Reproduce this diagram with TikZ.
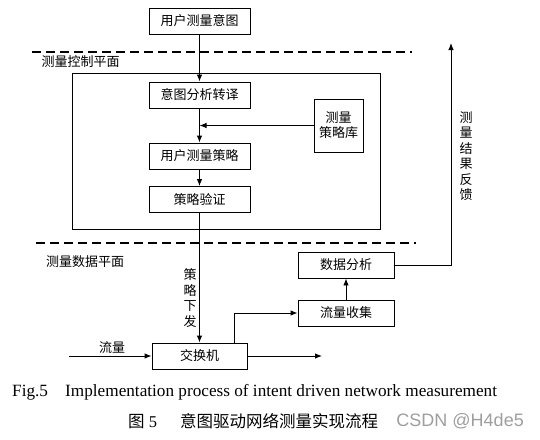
\documentclass[tikz,border=0pt]{standalone}
\usepackage{fontspec}
\setmainfont{Liberation Serif}
\newfontfamily\cjk{Noto Sans CJK SC}
\newfontfamily\wm{Liberation Sans}
\usetikzlibrary{arrows.meta}
\tikzset{
  box/.style={draw, line width=0.9pt, minimum width=101pt, minimum height=26pt, inner sep=0pt, font=\cjk\fontsize{13}{15}\selectfont},
  lbl/.style={inner sep=0pt, font=\cjk\fontsize{13}{15}\selectfont},
  vlbl/.style={inner sep=0pt, align=center, font=\cjk\fontsize{13}{15.5}\selectfont},
  arr/.style={line width=0.9pt, -{Latex[length=7pt,width=5.5pt]}},
  ln/.style={line width=0.9pt},
  plane/.style={line width=2pt, dash pattern=on 9pt off 5pt},
}
\begin{document}
\begin{tikzpicture}[x=1pt,y=-1pt]
\useasboundingbox (0,0) rectangle (540,439);
% planes
\coordinate (d1a) at (32,52); \coordinate (d1b) at (412,52);
\coordinate (d2a) at (36,243); \coordinate (d2b) at (416,243);
\draw[plane] (d1a) -- (d1b);
\draw[plane] (d2a) -- (d2b);
\node[lbl] (lctrl) at (80.5,62) {测量控制平面};
\node[lbl] (ldata) at (85,262) {测量数据平面};
% control plane frame
\node[draw, ln, minimum width=308pt, minimum height=156pt, inner sep=0pt] (ctrl) at (226,151) {};
% boxes
\node[box] (n1) at (199.5,21) {用户测量意图};
\node[box] (n2) at (199.5,95) {意图分析转译};
\node[box] (n3) at (199.5,156) {用户测量策略};
\node[box] (n4) at (199.5,199.5) {策略验证};
\node[box, minimum width=49pt, minimum height=53pt, align=center] (lib) at (338.5,125.5) {测量\\策略库};
\node[box, minimum width=95pt] (sw) at (199.5,356) {交换机};
\node[box, minimum width=96pt] (col) at (346,313) {流量收集};
\node[box, minimum width=96pt] (ana) at (346,265) {数据分析};
% connectors
\coordinate (j1) at (199.5,125.5);
\draw[arr] (n1) -- (n2);
\draw[arr] (n2) -- (n3);
\draw[arr] (lib.west) -- (j1);
\draw[arr] (n3) -- (n4);
\draw[arr] (n4) -- (sw);
\coordinate (in) at (69,356);
\coordinate (out) at (322,356);
\draw[arr] (in) -- (sw.west);
\draw[arr] (sw.east) -- (out);
\coordinate (tap) at (234,343);
\draw[arr] (tap) |- (col.west);
\draw[arr] (col) -- (ana);
\coordinate (fb) at (451,43);
\draw[arr] (ana.east) -| (fb);
% labels
\node[lbl] (lflow) at (112,348) {流量};
\node[vlbl] (lpol) at (190,298) {策\\略\\下\\发};
\node[vlbl] (lfb) at (466,156) {测\\量\\结\\果\\反\\馈};
% caption
\node[inner sep=0pt, anchor=west, font=\fontsize{17.2}{19}\selectfont] (cap1) at (12,392) {Fig.5\hspace{1em}Implementation process of intent driven network measurement};
\node[inner sep=0pt, anchor=west, font=\fontsize{16.5}{19}\selectfont] (cap2) at (128,421) {{\cjk 图} 5\hspace{1.4em}{\cjk 意图驱动网络测量实现流程}};
\node[inner sep=0pt, anchor=east, text=black!38, font=\wm\fontsize{18}{20}\selectfont] (wm) at (524,421) {CSDN @H4de5};
\end{tikzpicture}
\end{document}
